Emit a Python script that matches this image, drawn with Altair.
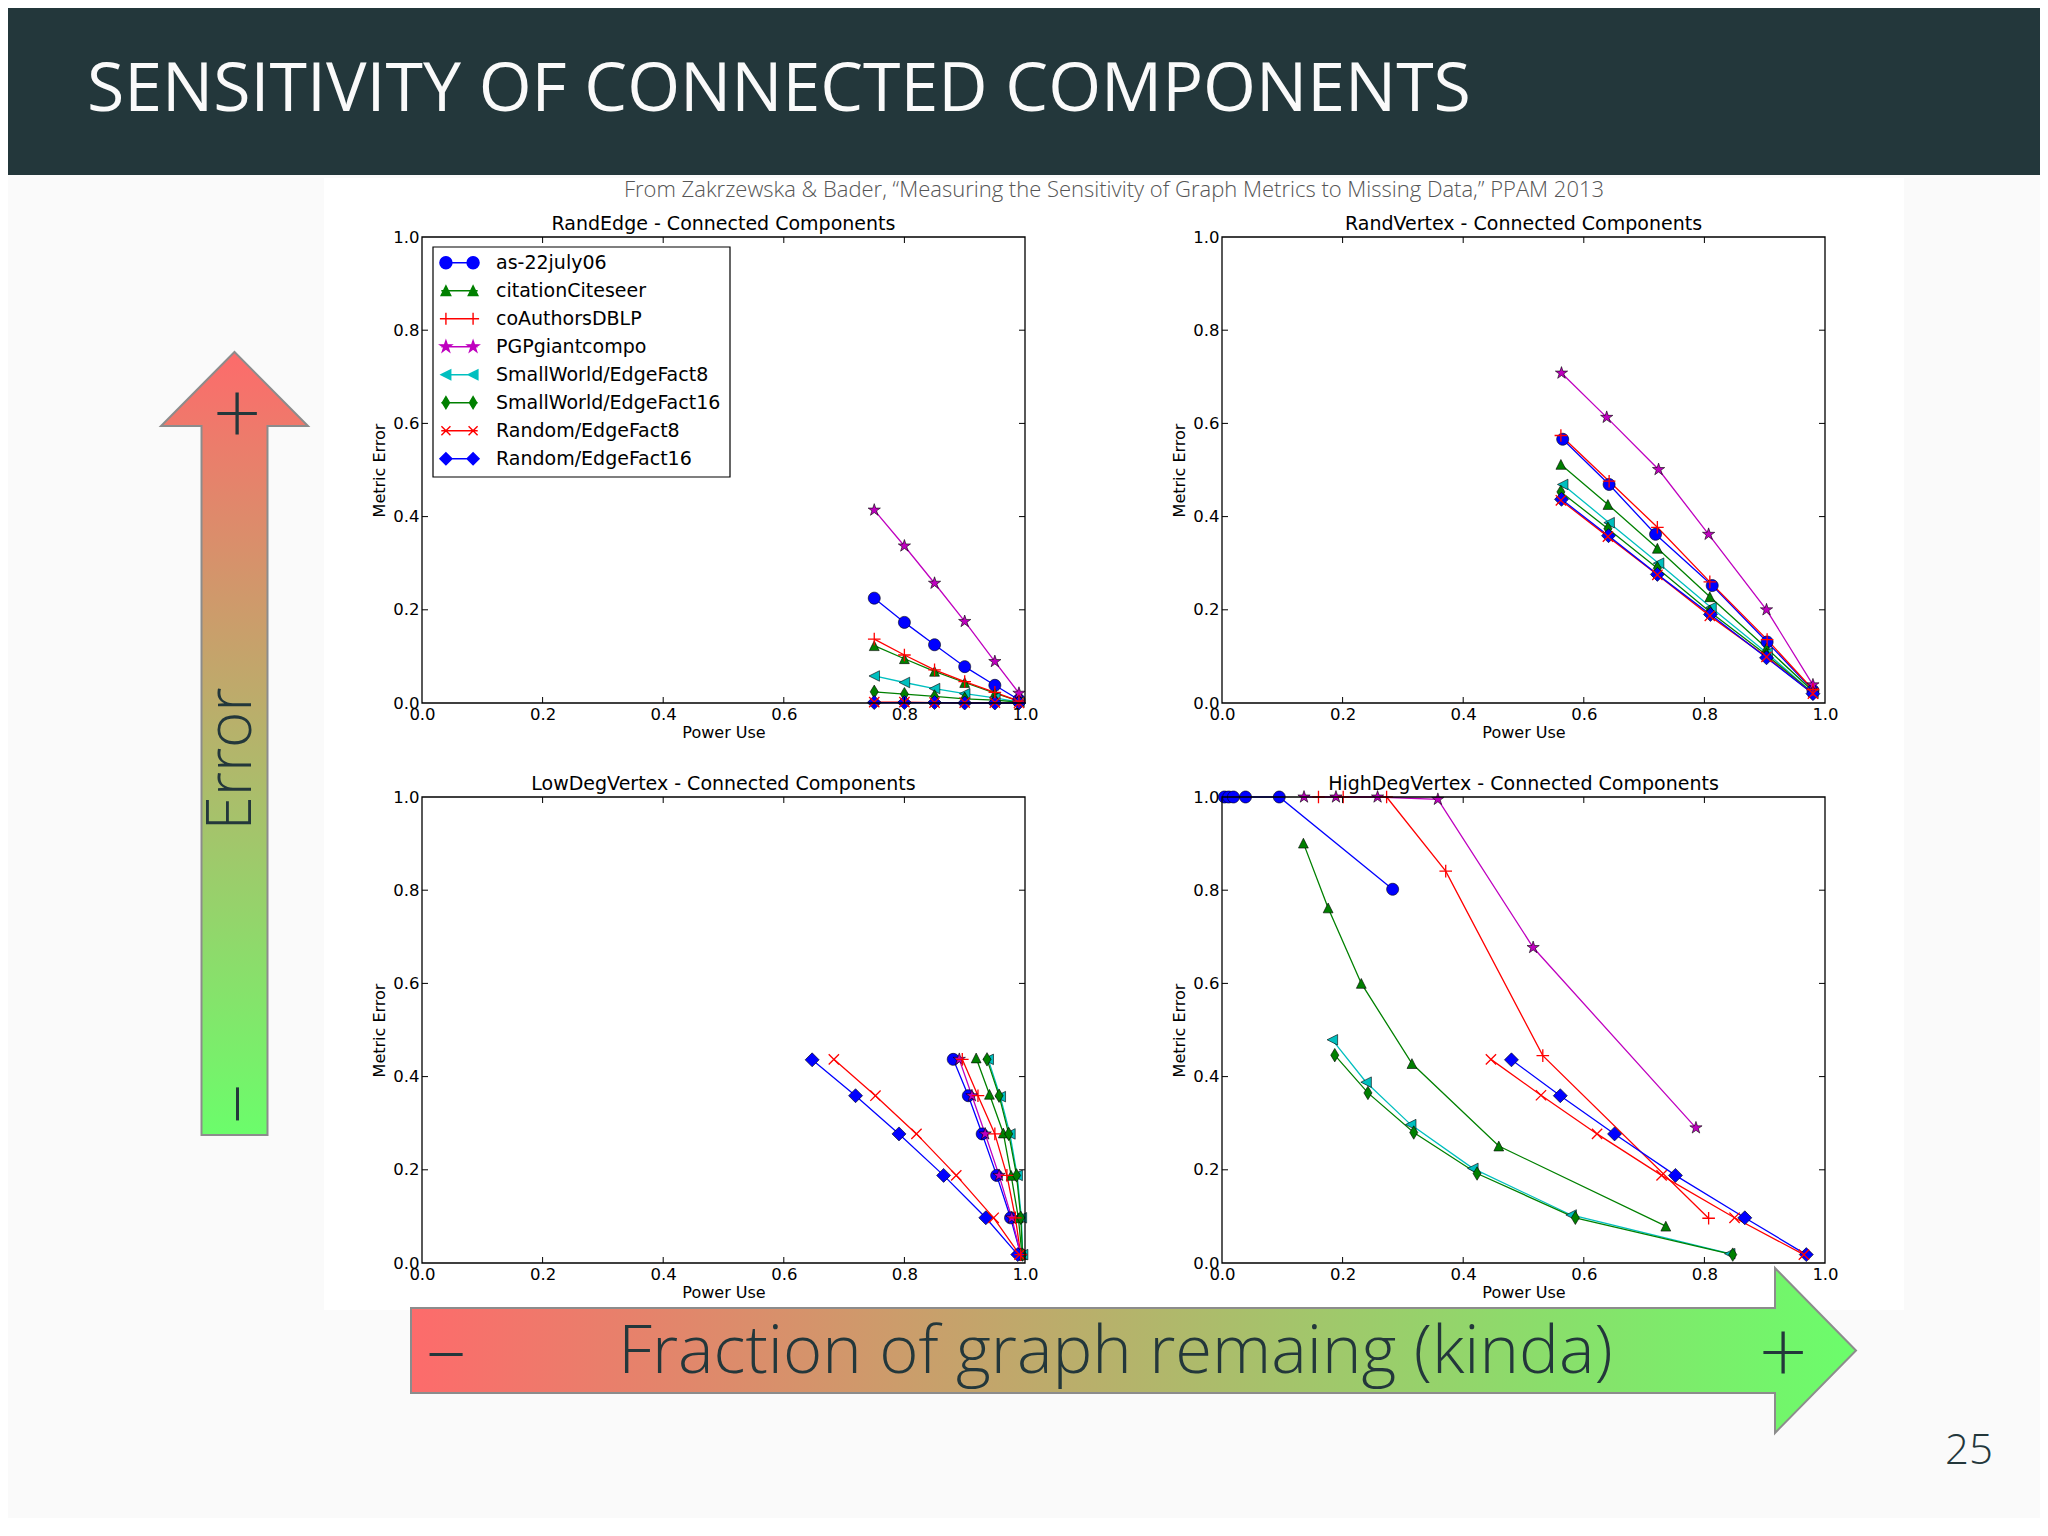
import math
import altair as alt
import pandas as pd

# ---------------------------------------------------------------- data
SERIES = ["as-22july06", "citationCiteseer", "coAuthorsDBLP", "PGPgiantcompo",
          "SmallWorld/EdgeFact8", "SmallWorld/EdgeFact16", "Random/EdgeFact8", "Random/EdgeFact16"]
COLORS = ["#0000ff", "#008000", "#ff0000", "#bf00bf", "#00bfbf", "#008000", "#ff0000", "#0000ff"]
MARKERS = ["o", "^", "+", "*", "<", "d", "x", "D"]
TICKS = [0.0, 0.2, 0.4, 0.6, 0.8, 1.0]
PANEL_TITLES = ["RandEdge - Connected Components", "RandVertex - Connected Components",
                "LowDegVertex - Connected Components", "HighDegVertex - Connected Components"]

RANDEDGE_POWER = {
    "as-22july06": [0.75, 0.80, 0.85, 0.90, 0.95, 0.99],
    "citationCiteseer": [0.75, 0.80, 0.85, 0.90, 0.95, 0.99],
    "coAuthorsDBLP": [0.75, 0.80, 0.85, 0.90, 0.95, 0.99],
    "PGPgiantcompo": [0.75, 0.80, 0.85, 0.90, 0.95, 0.99],
    "SmallWorld/EdgeFact8": [0.75, 0.80, 0.85, 0.90, 0.95, 0.99],
    "SmallWorld/EdgeFact16": [0.75, 0.80, 0.85, 0.90, 0.95, 0.99],
    "Random/EdgeFact8": [0.75, 0.80, 0.85, 0.90, 0.95, 0.99],
    "Random/EdgeFact16": [0.75, 0.80, 0.85, 0.90, 0.95, 0.99],
}
RANDEDGE_ERROR = {
    "as-22july06": [0.225, 0.173, 0.125, 0.078, 0.038, 0.007],
    "citationCiteseer": [0.123, 0.095, 0.068, 0.044, 0.021, 0.004],
    "coAuthorsDBLP": [0.137, 0.103, 0.071, 0.046, 0.023, 0.004],
    "PGPgiantcompo": [0.414, 0.337, 0.257, 0.175, 0.089, 0.021],
    "SmallWorld/EdgeFact8": [0.058, 0.044, 0.031, 0.020, 0.011, 0.002],
    "SmallWorld/EdgeFact16": [0.024, 0.019, 0.014, 0.009, 0.006, 0.002],
    "Random/EdgeFact8": [0.002, 0.002, 0.001, 0.001, 0.001, 0.0],
    "Random/EdgeFact16": [0.001, 0.001, 0.001, 0.0, 0.0, 0.0],
}
RANDVERTEX_POWER = {
    "as-22july06": [0.565, 0.642, 0.719, 0.813, 0.904, 0.980],
    "citationCiteseer": [0.562, 0.640, 0.722, 0.809, 0.903, 0.980],
    "coAuthorsDBLP": [0.562, 0.642, 0.722, 0.809, 0.904, 0.980],
    "PGPgiantcompo": [0.563, 0.638, 0.724, 0.807, 0.903, 0.980],
    "SmallWorld/EdgeFact8": [0.565, 0.642, 0.724, 0.811, 0.904, 0.980],
    "SmallWorld/EdgeFact16": [0.562, 0.640, 0.722, 0.809, 0.903, 0.980],
    "Random/EdgeFact8": [0.562, 0.640, 0.722, 0.809, 0.903, 0.980],
    "Random/EdgeFact16": [0.563, 0.641, 0.722, 0.810, 0.903, 0.980],
}
RANDVERTEX_ERROR = {
    "as-22july06": [0.566, 0.469, 0.362, 0.252, 0.131, 0.027],
    "citationCiteseer": [0.512, 0.426, 0.332, 0.228, 0.118, 0.025],
    "coAuthorsDBLP": [0.574, 0.476, 0.377, 0.260, 0.136, 0.029],
    "PGPgiantcompo": [0.708, 0.613, 0.501, 0.362, 0.200, 0.039],
    "SmallWorld/EdgeFact8": [0.469, 0.387, 0.300, 0.205, 0.107, 0.021],
    "SmallWorld/EdgeFact16": [0.453, 0.374, 0.289, 0.196, 0.103, 0.021],
    "Random/EdgeFact8": [0.435, 0.357, 0.275, 0.187, 0.099, 0.020],
    "Random/EdgeFact16": [0.437, 0.359, 0.276, 0.190, 0.097, 0.020],
}
LOWDEG_POWER = {
    "as-22july06": [0.881, 0.906, 0.929, 0.953, 0.976, 0.993],
    "citationCiteseer": [0.919, 0.941, 0.964, 0.977, 0.989, 0.995],
    "coAuthorsDBLP": [0.896, 0.922, 0.950, 0.970, 0.984, 0.993],
    "PGPgiantcompo": [0.891, 0.912, 0.934, 0.957, 0.978, 0.993],
    "SmallWorld/EdgeFact8": [0.939, 0.959, 0.975, 0.987, 0.994, 0.996],
    "SmallWorld/EdgeFact16": [0.937, 0.957, 0.973, 0.986, 0.993, 0.996],
    "Random/EdgeFact8": [0.683, 0.752, 0.820, 0.886, 0.948, 0.991],
    "Random/EdgeFact16": [0.647, 0.719, 0.791, 0.865, 0.935, 0.988],
}
LOWDEG_ERROR = {
    "as-22july06": [0.437, 0.359, 0.277, 0.188, 0.097, 0.018],
    "citationCiteseer": [0.440, 0.362, 0.279, 0.188, 0.097, 0.018],
    "coAuthorsDBLP": [0.437, 0.359, 0.277, 0.188, 0.097, 0.018],
    "PGPgiantcompo": [0.437, 0.359, 0.277, 0.188, 0.097, 0.018],
    "SmallWorld/EdgeFact8": [0.437, 0.357, 0.277, 0.188, 0.097, 0.018],
    "SmallWorld/EdgeFact16": [0.437, 0.359, 0.277, 0.188, 0.097, 0.018],
    "Random/EdgeFact8": [0.437, 0.359, 0.277, 0.188, 0.097, 0.018],
    "Random/EdgeFact16": [0.436, 0.359, 0.277, 0.188, 0.097, 0.018],
}
HIGHDEG_POWER = {
    "as-22july06": [0.004, 0.011, 0.019, 0.039, 0.095, 0.283],
    "citationCiteseer": [0.135, 0.176, 0.231, 0.315, 0.459, 0.736],
    "coAuthorsDBLP": [0.160, 0.201, 0.273, 0.371, 0.532, 0.807],
    "PGPgiantcompo": [0.136, 0.189, 0.258, 0.358, 0.516, 0.786],
    "SmallWorld/EdgeFact8": [0.183, 0.239, 0.313, 0.416, 0.579, 0.842],
    "SmallWorld/EdgeFact16": [0.187, 0.242, 0.318, 0.423, 0.586, 0.847],
    "Random/EdgeFact8": [0.446, 0.529, 0.622, 0.729, 0.850, 0.965],
    "Random/EdgeFact16": [0.480, 0.561, 0.651, 0.752, 0.867, 0.969],
}
HIGHDEG_ERROR = {
    "as-22july06": [1.0, 1.0, 1.0, 1.0, 1.0, 0.802],
    "citationCiteseer": [0.901, 0.762, 0.600, 0.428, 0.251, 0.079],
    "coAuthorsDBLP": [1.0, 1.0, 1.0, 0.841, 0.445, 0.096],
    "PGPgiantcompo": [1.0, 1.0, 1.0, 0.995, 0.677, 0.290],
    "SmallWorld/EdgeFact8": [0.479, 0.388, 0.297, 0.203, 0.103, 0.020],
    "SmallWorld/EdgeFact16": [0.446, 0.365, 0.280, 0.192, 0.097, 0.018],
    "Random/EdgeFact8": [0.437, 0.360, 0.277, 0.188, 0.097, 0.018],
    "Random/EdgeFact16": [0.436, 0.359, 0.277, 0.188, 0.097, 0.018],
}

# ---------------------------------------------------------------- styles
FONT = "DejaVu Sans"
SLIDE_FONT = "Open Sans"
DARK = "#23373b"
W, H = 603, 466          # plot area of each panel
OX, OY = 422, 237        # page position of first panel's plot area


def marker_path(m, cx=0.0, r=1.0):
    if m == "o":
        return (f"M{cx - r:.3f},0A{r:.3f},{r:.3f} 0 1,0 {cx + r:.3f},0"
                f"A{r:.3f},{r:.3f} 0 1,0 {cx - r:.3f},0Z")
    if m == "+":
        return f"M{cx - r:.3f},0H{cx + r:.3f}M{cx:.3f},{-r:.3f}V{r:.3f}"
    if m == "x":
        k = 0.75 * r
        return f"M{cx - k:.3f},{-k:.3f}L{cx + k:.3f},{k:.3f}M{cx - k:.3f},{k:.3f}L{cx + k:.3f},{-k:.3f}"
    if m == "*":
        pts = []
        for k in range(10):
            a = -math.pi / 2 + k * math.pi / 5
            rr = 1.0 if k % 2 == 0 else 0.382
            pts.append((rr * math.cos(a), rr * math.sin(a)))
    else:
        pts = {
            "^": [(0, -1), (1, 1), (-1, 1)],
            "<": [(-1, 0), (1, -1), (1, 1)],
            "d": [(0, -1), (0.6, 0), (0, 1), (-0.6, 0)],
            "D": [(0, -1), (1, 0), (0, 1), (-1, 0)],
        }[m]
    return "M" + "L".join(f"{cx + px * r:.3f},{py * r:.3f}" for px, py in pts) + "Z"


MARKER_R = {"o": 1.0, "^": 0.8, "+": 1.0, "*": 1.0, "<": 0.8, "d": 1.0, "x": 1.0, "D": 1.0}
MARKER_SIZE = {"o": 144, "^": 196, "+": 144, "*": 196, "<": 196, "d": 196, "x": 144, "D": 196}
SHAPES = [marker_path(m, 0.0, MARKER_R[m]) for m in MARKERS]
SIZES = [MARKER_SIZE[m] for m in MARKERS]
STROKED = [s for s, m in zip(SERIES, MARKERS) if m in ("+", "x")]
FILLED = [s for s in SERIES if s not in STROKED]


def legend_path(m):
    r = 0.43 * MARKER_R[m]
    return "M-1.3,0H1.3" + marker_path(m, -0.97, r) + marker_path(m, 0.97, r)


SX = alt.Scale(domain=[0, 1], nice=False, zero=False)
SY = alt.Scale(domain=[0, 1], nice=False, zero=False)
AX = alt.Axis(values=TICKS, format=".1f", ticks=False, domain=False, grid=False, zindex=2,
              labelFont=FONT, labelFontSize=16.5, labelColor="black", labelPadding=3,
              labelFlush=False, labelOverlap=False, title="Power Use", titleFont=FONT,
              titleFontSize=16, titleFontWeight="normal", titleColor="black", titlePadding=2)
AY = alt.Axis(values=TICKS, format=".1f", ticks=False, domain=False, grid=False, zindex=2,
              labelFont=FONT, labelFontSize=16.5, labelColor="black", labelPadding=3,
              labelFlush=False, labelOverlap=False, title="Metric Error", titleFont=FONT,
              titleFontSize=16, titleFontWeight="normal", titleColor="black", titlePadding=5)
CSCALE = alt.Scale(domain=SERIES, range=COLORS)
SHSCALE = alt.Scale(domain=SERIES, range=SHAPES)
SZSCALE = alt.Scale(domain=SERIES, range=SIZES)

ONE = alt.Data(values=[{"k": 0}])


def rect(x1, y1, x2, y2, color, stroke=None):
    kw = {"stroke": stroke, "strokeWidth": 1.2} if stroke else {}
    return alt.Chart(ONE).mark_rect(color=color, opacity=1, **kw).encode(
        x=alt.value(x1 - OX), x2=alt.value(x2 - OX), y=alt.value(y1 - OY), y2=alt.value(y2 - OY))


def label(txt, x, y, size, color, font=SLIDE_FONT, align="center", baseline="alphabetic",
          angle=0, weight="normal"):
    kw = {"angle": angle} if angle else {}
    return alt.Chart(ONE).mark_text(
        text=txt, font=font, fontSize=size, color=color, align=align, baseline=baseline,
        fontWeight=weight, **kw).encode(x=alt.value(x - OX), y=alt.value(y - OY))


def arrow(path, cx, cy, vertical):
    grad = alt.LinearGradient(
        gradient="linear",
        stops=[alt.GradientStop(color="#fd6b6b", offset=0), alt.GradientStop(color="#6bfd6b", offset=1)],
        x1=0, y1=0, x2=(0 if vertical else 1), y2=(1 if vertical else 0))
    return alt.Chart(ONE).mark_point(
        shape=path, size=40000, filled=True, fill=grad, stroke="#8c8c8c", strokeWidth=2,
        opacity=1).encode(x=alt.value(cx - OX), y=alt.value(cy - OY))


LEFT_ARROW = ("M0,-3.915L0.735,-3.175L0.33,-3.175L0.33,3.915L-0.33,3.915"
              "L-0.33,-3.175L-0.735,-3.175Z")
BOTTOM_ARROW = ("M-7.225,-0.425L6.415,-0.425L6.415,-0.825L7.225,0L6.415,0.825"
                "L6.415,0.425L-7.225,0.425Z")

DECOR = [
    rect(8, 175, 2040, 1518, "#fafafa"),
    rect(8, 8, 2040, 175, DARK),
    rect(324, 178, 1904, 1310, "#ffffff"),
    label("SENSITIVITY OF CONNECTED COMPONENTS", 87, 111, 68, "#fafafa", align="left"),
    label("From Zakrzewska & Bader, \u201cMeasuring the Sensitivity of Graph Metrics to Missing Data,\u201d PPAM 2013",
          1114, 197, 22, "#555555", weight=300),
    arrow(LEFT_ARROW, 234.5, 743.5, True),
    arrow(BOTTOM_ARROW, 1133.5, 1350.5, False),
    label("Error", 232, 759, 62, DARK, baseline="middle", angle=270, weight=300),
    label("+", 237, 417, 84, DARK, font="Lato", baseline="middle", weight=300),
    label("\u2013", 237, 1104, 84, DARK, font="Lato", baseline="middle", angle=270, weight=300),
    label("\u2013", 446, 1354, 84, DARK, font="Lato", baseline="middle", weight=300),
    label("+", 1783, 1356, 84, DARK, font="Lato", baseline="middle", weight=300),
    label("Fraction of graph remaing (kinda)", 1115.5, 1373, 67, DARK, weight=300),
    label("25", 1993, 1464, 42, DARK, align="right", weight=300),
]

# legend box drawn inside the first panel (page coordinates)
LEGEND = [rect(433, 247, 730, 477, "#ffffff", stroke="black")]
for k, (s, m, c) in enumerate(zip(SERIES, MARKERS, COLORS)):
    cy = 262.7 + 28 * k
    is_open = m in ("+", "x")
    LEGEND.append(alt.Chart(ONE).mark_point(
        shape=legend_path(m), size=784, filled=not is_open, opacity=1,
        color=c, fill=("transparent" if is_open else c), stroke=c, strokeWidth=1.4
    ).encode(x=alt.value(459.5 - OX), y=alt.value(cy - OY)))
    LEGEND.append(label(s, 496, cy, 19, "black", font=FONT, align="left", baseline="middle"))


def panel(power, error, title, decor=(), overlay=()):
    rows = []
    for s in SERIES:
        for i, (px, py) in enumerate(zip(power[s], error[s])):
            rows.append({"series": s, "power": px, "error": py, "i": i})
    df = pd.DataFrame(rows)
    X = alt.X("power:Q", scale=SX, axis=AX)
    Y = alt.Y("error:Q", scale=SY, axis=AY)
    C = alt.Color("series:N", scale=CSCALE, legend=None)
    SH = alt.Shape("series:N", scale=SHSCALE, legend=None)
    SZ = alt.Size("series:N", scale=SZSCALE, legend=None)

    lines = alt.Chart(df).mark_line(strokeWidth=1.3).encode(
        x=X, y=Y, color=C, order=alt.Order("i:Q"))
    filled = alt.Chart(df).transform_filter(
        alt.FieldOneOfPredicate(field="series", oneOf=FILLED)
    ).mark_point(filled=True, opacity=1, stroke="black", strokeWidth=0.6).encode(
        x=X, y=Y, color=C, shape=SH, size=SZ)
    stroked = alt.Chart(df).transform_filter(
        alt.FieldOneOfPredicate(field="series", oneOf=STROKED)
    ).mark_point(filled=False, opacity=1, strokeWidth=1.3).encode(
        x=X, y=Y, color=C, shape=SH, size=SZ)

    tdf = pd.DataFrame({"t": TICKS[1:-1]})
    TX = alt.X("t:Q", scale=SX, axis=AX)
    TY = alt.Y("t:Q", scale=SY, axis=AY)
    tk = alt.Chart(tdf).mark_rule(color="black", strokeWidth=1)
    ticks = [
        tk.encode(x=TX, y=alt.value(H), y2=alt.value(H - 6)),
        tk.encode(x=TX, y=alt.value(0), y2=alt.value(6)),
        tk.encode(y=TY, x=alt.value(0), x2=alt.value(6)),
        tk.encode(y=TY, x=alt.value(W), x2=alt.value(W - 6)),
    ]
    frame = alt.Chart(ONE).mark_rect(fillOpacity=0, stroke="black", strokeWidth=1.3).encode(
        x=alt.value(0), x2=alt.value(W), y=alt.value(0), y2=alt.value(H))
    ttl = alt.Chart(ONE).mark_text(
        text=title, font=FONT, fontSize=19, color="black", align="center", baseline="alphabetic"
    ).encode(x=alt.value(W / 2), y=alt.value(-7))
    layers = list(decor) + [lines, filled, stroked] + ticks + [frame, ttl] + list(overlay)
    return alt.layer(*layers).properties(width=W, height=H)


tl = panel(RANDEDGE_POWER, RANDEDGE_ERROR, PANEL_TITLES[0], DECOR, LEGEND)
tr = panel(RANDVERTEX_POWER, RANDVERTEX_ERROR, PANEL_TITLES[1])
bl = panel(LOWDEG_POWER, LOWDEG_ERROR, PANEL_TITLES[2])
br = panel(HIGHDEG_POWER, HIGHDEG_ERROR, PANEL_TITLES[3])

chart = alt.concat(
    tl, tr, bl, br, columns=2, spacing={"row": 94, "column": 197}, bounds="flush"
).properties(
    padding=0, background="#fafafa"
).configure_view(strokeWidth=0)

chart.save("out.html", embed_options={"renderer": "svg", "actions": False})
